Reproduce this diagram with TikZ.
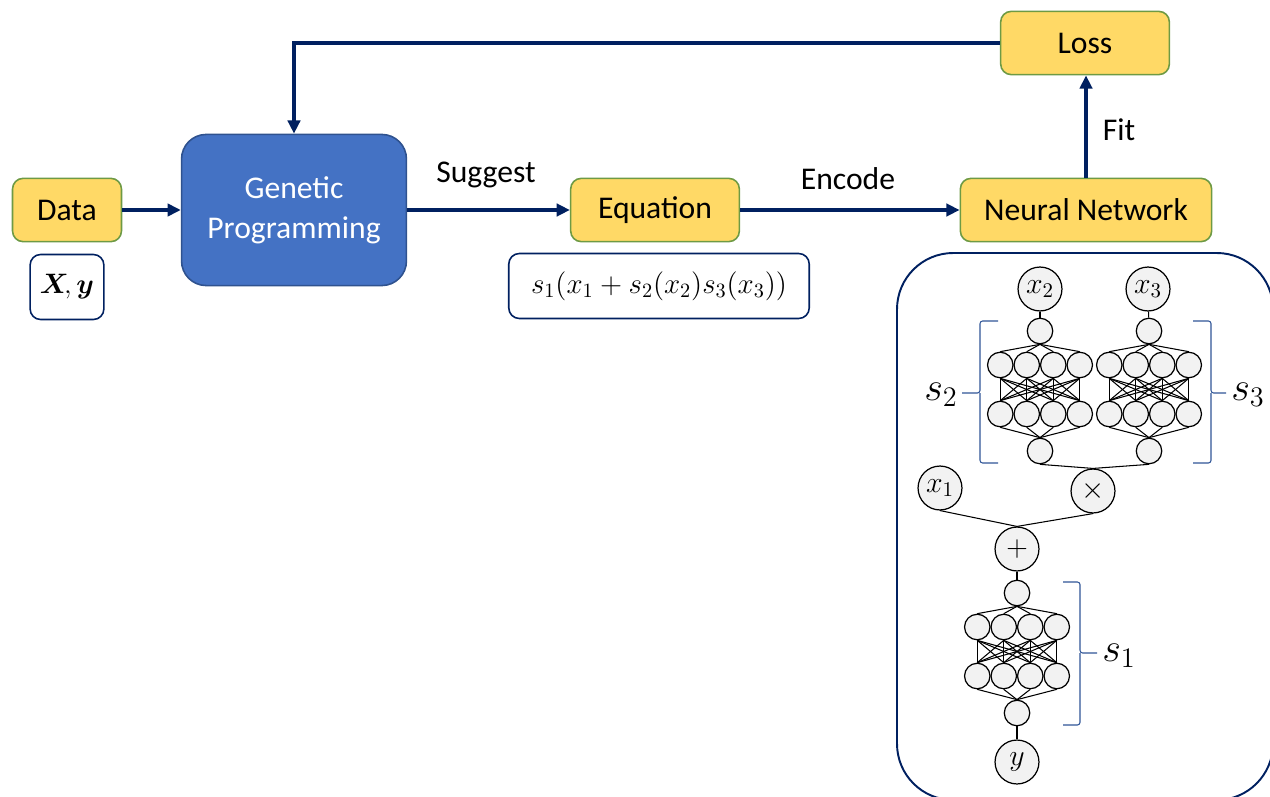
\documentclass[tikz,border=0pt]{standalone}
\usepackage{fix-cm}
\usepackage{amsmath}
\usepackage{fontspec}
\setmainfont{Carlito}
\usetikzlibrary{arrows.meta}
\definecolor{myyellow}{HTML}{FFD966}
\definecolor{mygreen}{HTML}{6E9A44}
\definecolor{myblue}{HTML}{4472C4}
\definecolor{mydarkblue}{HTML}{2F528F}
\definecolor{mynavy}{HTML}{002060}
\definecolor{mygrey}{HTML}{F2F2F2}
\definecolor{mybrace}{HTML}{2F5597}

% one small network s_i: #1 prefix, #2 x, #3 y of its top neuron
\newcommand\SubNet[3]{%
  \node[Neuron] (#1t) at (#2,#3) {};
  \foreach \i in {1,...,4} {
    \node[Neuron] (#1a\i) at ({#2+(\i-2.5)*26.5},{#3+34}) {};
    \node[Neuron] (#1b\i) at ({#2+(\i-2.5)*26.5},{#3+83}) {};
  }
  \node[Neuron] (#1o) at (#2,#3+120) {};
  \foreach \i in {1,...,4} {
    \draw[NetEdge] (#1t.south) -- (#1a\i.north);
    \draw[NetEdge] (#1b\i.south) -- (#1o.north);
    \foreach \j in {1,...,4}
      \draw[NetEdge] (#1a\i.south) -- (#1b\j.north);
  }
}

\begin{document}
\begin{tikzpicture}[x=0.02cm,y=-0.02cm]
\tikzset{BoxStyle/.style ={draw=mygreen, fill=myyellow, line width=0.9pt, rounded corners=6pt,
  minimum height=36pt, font=\fontsize{18}{22}\selectfont}}
\tikzset{NoteStyle/.style ={draw=mynavy, fill=white, line width=0.9pt, rounded corners=6pt,
  minimum height=37pt}}
\tikzset{EdgeStyle/.style ={-{Triangle[length=7.5pt,width=7pt]}, line width=2.3pt, draw=mynavy}}
\tikzset{Neuron/.style ={circle, draw, fill=mygrey, line width=0.7pt, minimum size=14.5pt, inner sep=0pt}}
\tikzset{InNode/.style ={circle, draw, fill=mygrey, line width=0.7pt, minimum size=25pt, inner sep=0pt,
  font=\fontsize{17}{19}\selectfont}}
\tikzset{NetEdge/.style ={line width=0.6pt}}
\tikzset{Brace/.style ={draw=mybrace, line width=0.6pt, rounded corners=1.5pt}}
\useasboundingbox (0,0) rectangle (1270,797);
\clip (0,0) rectangle (1270,797);

% main flow
\node[BoxStyle, minimum width=62pt] (data) at (67,210) {Data};
\node[NoteStyle, minimum width=42pt] (xy) at (67,287) {\fontsize{16}{18}\selectfont$\boldsymbol{X}\!,\boldsymbol{y}$};
\node[draw=mydarkblue, fill=myblue, line width=0.9pt, rounded corners=14pt, minimum width=128pt,
  minimum height=86pt, align=center, text=white, font=\fontsize{18}{23}\selectfont] (gp) at (294,210)
  {Genetic\\Programming};
\node[BoxStyle, minimum width=96pt] (eq) at (655,210) {Equation};
\node[NoteStyle, minimum width=171pt] (formula) at (659,286)
  {\fontsize{16.5}{18}\selectfont$s_1(x_1+s_2(x_2)s_3(x_3))$};
\node[BoxStyle, minimum width=143pt] (nn) at (1086,210) {Neural Network};
\node[BoxStyle, minimum width=96pt] (loss) at (1085,43) {Loss};

\node[font=\fontsize{18}{22}\selectfont] (suggest) at (486,175) {Suggest};
\node[font=\fontsize{18}{22}\selectfont] (encode) at (848,179) {Encode};
\node[font=\fontsize{18}{22}\selectfont] (fit) at (1119,130) {Fit};

\draw[EdgeStyle] (data) -- (gp);
\draw[EdgeStyle] (gp) -- (eq);
\draw[EdgeStyle] (eq) -- (nn);
\draw[EdgeStyle] (nn.north) -- (nn.north |- loss.south);
\draw[EdgeStyle] (loss) -| (gp);

% network
\draw[draw=mynavy, line width=1.1pt, rounded corners=32pt] (897,253) rectangle (1273,800);
\node[InNode] (x2) at (1040,289) {$x_2$};
\node[InNode] (x3) at (1148,289) {$x_3$};
\SubNet{sa}{1040}{331}
\SubNet{sb}{1149}{331}
\draw[NetEdge] (x2) -- (sat);
\draw[NetEdge] (x3) -- (sbt);
\node[InNode] (x1) at (940,488) {$x_1$};
\node[InNode] (times) at (1093,491) {$\times$};
\node[InNode] (plus) at (1017,549) {$+$};
\draw[NetEdge] (sao.south) -- (times.north);
\draw[NetEdge] (sbo.south) -- (times.north);
\draw[NetEdge] (x1.south) -- (plus.north);
\draw[NetEdge] (times.south) -- (plus.north);
\SubNet{sc}{1017}{593}
\draw[NetEdge] (plus) -- (sct);
\node[InNode] (y) at (1017,762) {$y$};
\draw[NetEdge] (sco) -- (y);

% brackets
\draw[Brace] (998,321) -| (980,393) -- (962,393);
\draw[Brace] (980,393) |- (998,463);
\draw[Brace] (1193,321) -| (1211,393) -- (1226,393);
\draw[Brace] (1211,393) |- (1193,463);
\draw[Brace] (1063,582) -| (1080,653) -- (1097,653);
\draw[Brace] (1080,653) |- (1063,725);
\node[font=\fontsize{23}{25}\selectfont] (s2) at (941,395) {$s_2$};
\node[font=\fontsize{23}{25}\selectfont] (s3) at (1248,395) {$s_3$};
\node[font=\fontsize{23}{25}\selectfont] (s1) at (1119,656) {$s_1$};
\end{tikzpicture}
\end{document}
